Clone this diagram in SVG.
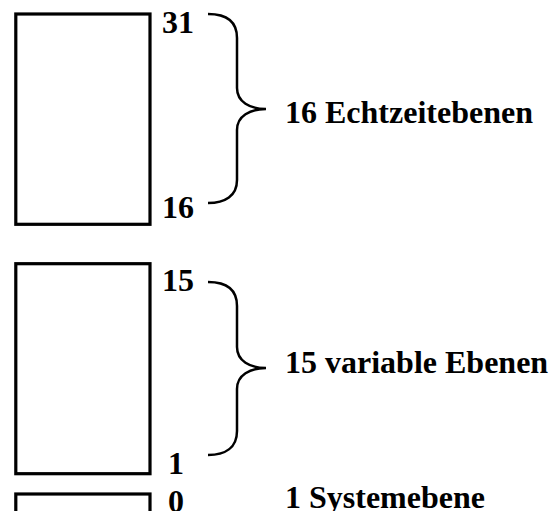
<svg xmlns="http://www.w3.org/2000/svg" width="559" height="511" viewBox="0 0 559 511">
  <style>
    .level { fill: #ffffff; stroke: #000000; stroke-width: 3.2; }
    .brace { fill: none; stroke: #000000; stroke-width: 2.5; }
    text { font-family: "Liberation Serif", "Times New Roman", serif; font-weight: bold; font-size: 32px; fill: #000000; }
  </style>
  <rect width="559" height="511" fill="#ffffff"/>

  <!-- priority level blocks -->
  <g id="realtime-levels">
    <rect class="level" x="15.8" y="14" width="134.2" height="210.3"/>
    <text x="162" y="33">31</text>
    <text x="162" y="218">16</text>
  </g>
  <g id="variable-levels">
    <rect class="level" x="15.8" y="263.7" width="134.2" height="210"/>
    <text x="162" y="291">15</text>
    <text x="168" y="474">1</text>
  </g>
  <g id="system-level">
    <rect class="level" x="15.8" y="494" width="134.2" height="100"/>
    <text x="168" y="512">0</text>
  </g>

  <!-- braces grouping the level ranges -->
  <g id="connectors">
    <path class="brace" d="M208,14 C225,14 237,20 237,38 L237,88 C237,102 250,109 266,109 C250,109 237,116 237,130 L237,180 C237,196 225,203 208,203"/>
    <path class="brace" d="M208,282 C225,282 237,288 237,306 L237,347 C237,361 250,368 266,368 C250,368 237,375 237,389 L237,431 C237,448 225,455 208,455"/>
  </g>

  <!-- range labels -->
  <g id="label-realtime">
    <text x="285" y="123">16 Echtzeitebenen</text>
  </g>
  <g id="label-variable">
    <text x="285" y="372.5">15 variable Ebenen</text>
  </g>
  <g id="label-system">
    <text x="285" y="508">1 Systemebene</text>
  </g>
</svg>
